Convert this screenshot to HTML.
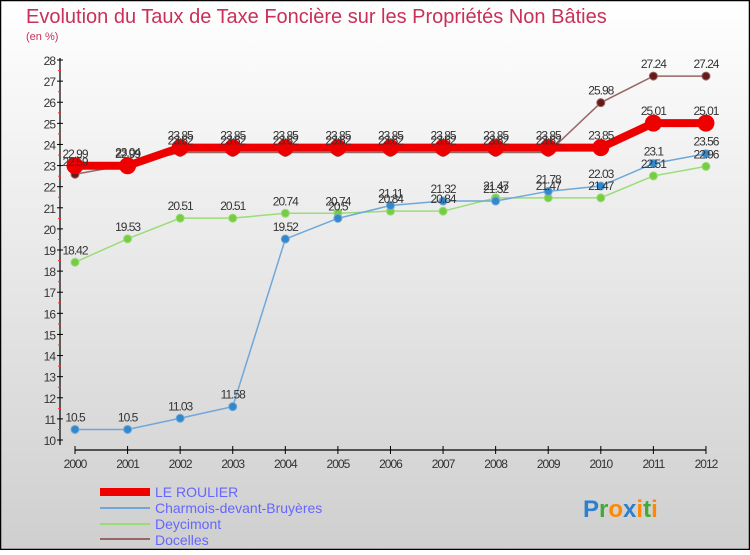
<!DOCTYPE html>
<html><head><meta charset="utf-8"><style>
body{margin:0;width:750px;height:550px;overflow:hidden;font-family:"Liberation Sans",sans-serif}
</style></head><body>
<svg width="750" height="550" xmlns="http://www.w3.org/2000/svg">
<defs><linearGradient id="bg" x1="0" y1="0" x2="0" y2="1"><stop offset="0" stop-color="#ffffff"/><stop offset="1" stop-color="#cfcfcf"/></linearGradient></defs>
<rect x="0.5" y="0.5" width="749" height="549" fill="url(#bg)" stroke="#000" stroke-width="1.5"/>
<text x="26" y="23" font-size="20" fill="#c8305a">Evolution du Taux de Taxe Foncière sur les Propriétés Non Bâties</text>
<text x="26" y="40" font-size="11" fill="#c8305a">(en %)</text>
<g id="axes"></g><g id="series"></g><g id="labels"></g>
<g>
<rect x="100" y="488" width="50" height="8" fill="#ee0000"/>
<text x="155" y="497" font-size="14" fill="#6666ff">LE ROULIER</text>
<line x1="100" y1="508" x2="150" y2="508" stroke="#6fa8d8" stroke-width="2"/>
<text x="155" y="513" font-size="14" fill="#6666ff">Charmois-devant-Bruyères</text>
<line x1="100" y1="524" x2="150" y2="524" stroke="#99dd77" stroke-width="2"/>
<text x="155" y="529" font-size="14" fill="#6666ff">Deycimont</text>
<line x1="100" y1="539" x2="150" y2="539" stroke="#996666" stroke-width="2"/>
<text x="155" y="545" font-size="14" fill="#6666ff">Docelles</text>
</g>
<text x="583" y="517" font-size="24" font-weight="bold"><tspan fill="#2f7fd0">P</tspan><tspan fill="#44aa33">r</tspan><tspan fill="#ff8800">o</tspan><tspan fill="#2f7fd0">x</tspan><tspan fill="#ff8800">i</tspan><tspan fill="#44aa33">t</tspan><tspan fill="#ff8800">i</tspan></text>
</svg>
<script>
const years=["2000","2001","2002","2003","2004","2005","2006","2007","2008","2009","2010","2011","2012"];
const yTicks=[10,11,12,13,14,15,16,17,18,19,20,21,22,23,24,25,26,27,28];
const roulier=[22.99,22.99,23.85,23.85,23.85,23.85,23.85,23.85,23.85,23.85,23.85,25.01,25.01];
const charmois=[10.5,10.5,11.03,11.58,19.52,20.5,21.11,21.32,21.32,21.78,22.03,23.1,23.56];
const deycimont=[18.42,19.53,20.51,20.51,20.74,20.74,20.84,20.84,21.47,21.47,21.47,22.51,22.96];
const docelles=[22.59,23.04,23.62,23.62,23.62,23.62,23.62,23.62,23.62,23.62,25.98,27.24,27.24];
const NS="http://www.w3.org/2000/svg";
const xS=i=>75+i*52.58;
const yS=v=>440-(v-10)*21.11;
function mk(t,a,p){const e=document.createElementNS(NS,t);for(const k in a)e.setAttribute(k,a[k]);p.appendChild(e);return e;}
const ax=document.getElementById('axes'),se=document.getElementById('series'),lb=document.getElementById('labels');
const yl=mk('line',{x1:60,y1:58,x2:60,y2:445,stroke:'#000','stroke-width':1.2},ax);

const xl=mk('line',{x1:75,y1:450,x2:706,y2:450,stroke:'#000','stroke-width':1.2},ax);

yTicks.forEach(v=>{const y=yS(v);
mk('line',{x1:57,y1:y,x2:63,y2:y,stroke:'#000'},ax);
if(v<28)mk('line',{x1:58,y1:y-10.5,x2:61,y2:y-10.5,stroke:'#e33'},ax);
const t=mk('text',{x:55,y:y+5,'font-size':12,fill:'#333','text-anchor':'end','letter-spacing':'-1'},ax);t.textContent=v;
});
years.forEach((yr,i)=>{const x=xS(i);mk('line',{x1:x,y1:446,x2:x,y2:454,stroke:'#000'},ax);
const t=mk('text',{x:x,y:468,'font-size':12,fill:'#333','text-anchor':'middle','letter-spacing':'-1'},ax);t.textContent=yr;
});
function series(d,name,color,w,r,dot){
const pl=mk('polyline',{points:d.map((v,i)=>xS(i)+','+yS(v)).join(' '),fill:'none',stroke:color,'stroke-width':w},se);

d.forEach((v,i)=>{const c=mk('circle',{cx:xS(i),cy:yS(v),r:r,fill:dot,stroke:color,'stroke-width':1},se);

const t=mk('text',{x:xS(i),y:yS(v)-8,'font-size':12,fill:'#333','text-anchor':'middle','letter-spacing':'-1'},lb);t.textContent=v;
});}
series(deycimont,'deycimont','#99dd77',1.5,4,'#77cc44');
series(charmois,'charmois','#6fa8d8',1.5,4,'#3388cc');
series(docelles,'docelles','#996666',1.5,4,'#661a1a');
series(roulier,'le-roulier','#ee0000',8,8,'#ee0000');
</script>
</body></html>
